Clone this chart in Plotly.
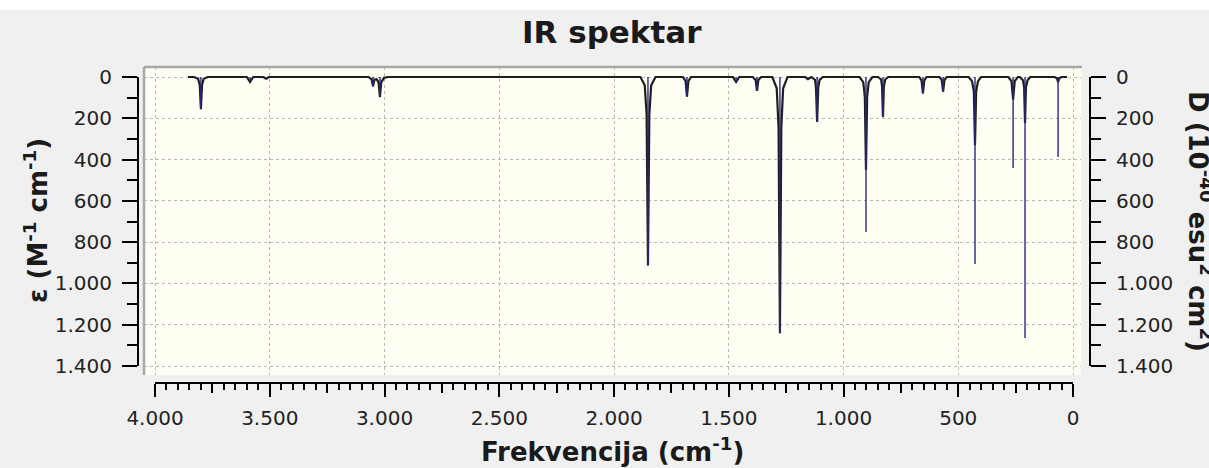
import plotly.graph_objects as go

W, H = 1209, 468

# ---------------- data ----------------
# stick intensities (blue lines), epsilon values
stick_freq = [3800, 3586, 3516, 3050, 3020, 1852, 1682, 1468, 1377, 1277, 1155, 1115,
              902, 828, 654, 566, 427, 261, 209, 65]
stick_eps = [158, 24, 8, 45, 98, 915, 95, 22, 67, 1242, 10, 218,
             751, 195, 80, 71, 906, 441, 1264, 388]

curve_freq = [3856,
              3830, 3812, 3805, 3800, 3795, 3788, 3770,
              3600, 3586, 3572,
              3528, 3516, 3504,
              3070, 3056, 3050, 3044, 3035, 3026, 3020, 3014, 3002, 2985,
              1885, 1866, 1858, 1852, 1846, 1838, 1819,
              1700, 1688, 1682, 1676, 1664,
              1482, 1468, 1454,
              1395, 1383, 1377, 1371, 1359,
              1310, 1291, 1283, 1277, 1271, 1263, 1244,
              1167, 1155, 1143,
              1140, 1124, 1120, 1115, 1110, 1104, 1090,
              930, 914, 907, 902, 897, 890, 874,
              850, 836, 832, 828, 824, 818, 805,
              670, 660, 654, 648, 638,
              582, 572, 566, 560, 550,
              455, 440, 432, 427, 422, 414, 400,
              282, 268, 261, 254, 240,
              232, 218, 213, 209, 205, 198, 186,
              80, 70, 65, 60, 50,
              26]
curve_eps = [0,
             0, 9, 39, 155, 39, 9, 0,
             0, 24, 0,
             0, 8, 0,
             0, 12, 45, 14, 10, 25, 97, 25, 4, 0,
             0, 40, 180, 911, 180, 40, 0,
             0, 20, 95, 20, 0,
             0, 24, 0,
             0, 14, 67, 14, 0,
             0, 55, 245, 1240, 245, 55, 0,
             0, 10, 0,
             0, 14, 50, 218, 50, 14, 0,
             0, 25, 95, 450, 95, 25, 0,
             0, 12, 45, 194, 45, 12, 0,
             0, 16, 80, 16, 0,
             0, 14, 71, 14, 0,
             0, 20, 70, 330, 70, 20, 0,
             0, 20, 110, 20, 0,
             0, 16, 50, 223, 50, 16, 0,
             0, 6, 25, 6, 0,
             0]

title_text = "IR spektar"
x_title = "Frekvencija (cm<sup>-1</sup>)"
y_title = "ε (M<sup>-1</sup> cm<sup>-1</sup>)"
y2_title = "D (10<sup>-40</sup> esu<sup>2</sup> cm<sup>2</sup>)"

# ---------------- geometry helpers ----------------
def px(x):
    return x / W

def py(y):
    return 1 - y / H

# data-area pixel anchors
X4000, X0 = 155, 1073
Y0, Y1400 = 77, 366
FL, FR, FT, FB = 144, 1081, 67, 375   # frame of plot area

sx = (X0 - X4000) / 4000.0
sy = (Y1400 - Y0) / 1400.0
x_range = [4000 + (X4000 - FL) / sx, 0 - (FR - X0) / sx]
y_range = [1400 + (FB - Y1400) / sy, 0 - (Y0 - FT) / sy]

fig = go.Figure()

# black broadened curve
fig.add_trace(go.Scatter(x=curve_freq, y=curve_eps, mode="lines",
                         line=dict(color="#1e1e1e", width=2.2),
                         xaxis="x", yaxis="y", showlegend=False, hoverinfo="skip"))

# blue sticks
sx_list, sy_list = [], []
for f, e in zip(stick_freq, stick_eps):
    sx_list += [f, f, None]
    sy_list += [0, e, None]
fig.add_trace(go.Scatter(x=sx_list, y=sy_list, mode="lines",
                         line=dict(color="#26268a", width=1.4),
                         xaxis="x", yaxis="y", showlegend=False, hoverinfo="skip"))

# dummy traces for display axes
fig.add_trace(go.Scatter(x=[None], y=[None], xaxis="x2", yaxis="y2", showlegend=False, hoverinfo="skip"))
fig.add_trace(go.Scatter(x=[None], y=[None], xaxis="x2", yaxis="y3", showlegend=False, hoverinfo="skip"))
fig.add_trace(go.Scatter(x=[None], y=[None], xaxis="x3", yaxis="y2", showlegend=False, hoverinfo="skip"))

tickfont = dict(family="DejaVu Sans", size=20, color="#222222")
grid = dict(showgrid=True, gridcolor="#b8b8b8", gridwidth=1, griddash="dot")

fig.update_layout(
    width=W, height=H, autosize=False,
    margin=dict(l=0, r=0, t=0, b=0, pad=0, autoexpand=False),
    paper_bgcolor="#f0f0f0", plot_bgcolor="rgba(0,0,0,0)",
    separators=",.",
    showlegend=False,
    xaxis=dict(domain=[px(FL), px(FR)], range=x_range, anchor="y", automargin=False,
               tick0=0, dtick=500, showticklabels=False, ticks="",
               zeroline=False, showline=False, **grid),
    yaxis=dict(domain=[py(FB), py(FT)], range=y_range, anchor="x", automargin=False,
               tick0=0, dtick=200, showticklabels=False, ticks="",
               zeroline=False, showline=False, **grid),
    xaxis2=dict(domain=[px(X4000), px(X0)], range=[4000, 0], anchor="free",
                position=py(383), side="bottom", automargin=False,
                tick0=0, dtick=500, ticks="outside", ticklen=13, tickwidth=1.5,
                tickcolor="black", showline=True, linecolor="black", linewidth=2,
                showgrid=False, zeroline=False, tickfont=tickfont,
                separatethousands=True, ticklabelstandoff=4,
                minor=dict(dtick=50, tick0=0, ticks="outside", ticklen=6,
                           tickwidth=1.5, tickcolor="black", showgrid=False)),
    xaxis3=dict(range=[4000, 0], overlaying="x2", anchor="free", automargin=False,
                position=py(383), side="bottom",
                tick0=0, dtick=250, ticks="outside", ticklen=9, tickwidth=1.5,
                tickcolor="black", showline=False, showgrid=False, zeroline=False,
                showticklabels=False),
    yaxis2=dict(domain=[py(Y1400), py(Y0)], range=[1400, 0], anchor="free",
                position=px(138), side="left", automargin=False,
                tick0=0, dtick=200, ticks="outside", ticklen=15, tickwidth=1.5,
                tickcolor="black", showline=True, linecolor="black", linewidth=2,
                showgrid=False, zeroline=False, tickfont=tickfont,
                separatethousands=True, ticklabelstandoff=6,
                minor=dict(dtick=100, tick0=0, ticks="outside", ticklen=10,
                           tickwidth=1.5, tickcolor="black", showgrid=False)),
    yaxis3=dict(range=[1400, 0], overlaying="y2", anchor="free", automargin=False,
                position=px(1090), side="right",
                tick0=0, dtick=200, ticks="outside", ticklen=15, tickwidth=1.5,
                tickcolor="black", showline=True, linecolor="black", linewidth=2,
                showgrid=False, zeroline=False, tickfont=tickfont,
                separatethousands=True, ticklabelstandoff=6,
                minor=dict(dtick=100, tick0=0, ticks="outside", ticklen=10,
                           tickwidth=1.5, tickcolor="black", showgrid=False)),
)

fig.update_layout(shapes=[
    dict(type="rect", xref="paper", yref="paper", x0=0, x1=1, y0=py(10), y1=1,
         fillcolor="white", line=dict(width=0), layer="below"),
    dict(type="rect", xref="paper", yref="paper", x0=px(FL), x1=px(FR), y0=py(FB), y1=py(FT),
         fillcolor="#fffff3", line=dict(width=0), layer="below"),
    dict(type="line", xref="paper", yref="paper", x0=px(FL), x1=px(FR + 1), y0=py(FT), y1=py(FT),
         line=dict(color="#a8a8a8", width=2.5), layer="above"),
    dict(type="line", xref="paper", yref="paper", x0=px(FL), x1=px(FL), y0=py(FB), y1=py(FT),
         line=dict(color="#a8a8a8", width=2.5), layer="above"),
])

afont = dict(family="DejaVu Sans", color="#1a1a1a")
fig.update_layout(annotations=[
    dict(text="<b>" + title_text + "</b>", xref="paper", yref="paper",
         x=px(612), y=py(32), xanchor="center", yanchor="middle", showarrow=False,
         font=dict(size=31, **afont)),
    dict(text="<b>" + x_title + "</b>", xref="paper", yref="paper",
         x=px(612), y=py(450), xanchor="center", yanchor="middle", showarrow=False,
         font=dict(size=26, **afont)),
    dict(text="<b>" + y_title + "</b>", xref="paper", yref="paper", textangle=-90,
         x=px(36), y=py(221), xanchor="center", yanchor="middle", showarrow=False,
         font=dict(size=26, **afont)),
    dict(text="<b>" + y2_title + "</b>", xref="paper", yref="paper", textangle=90,
         x=px(1200), y=py(221), xanchor="center", yanchor="middle", showarrow=False,
         font=dict(size=26, **afont)),
])

fig.write_html("out.html", config={"displayModeBar": False},
               post_script="document.body.style.margin='0';document.body.style.overflow='hidden';")
